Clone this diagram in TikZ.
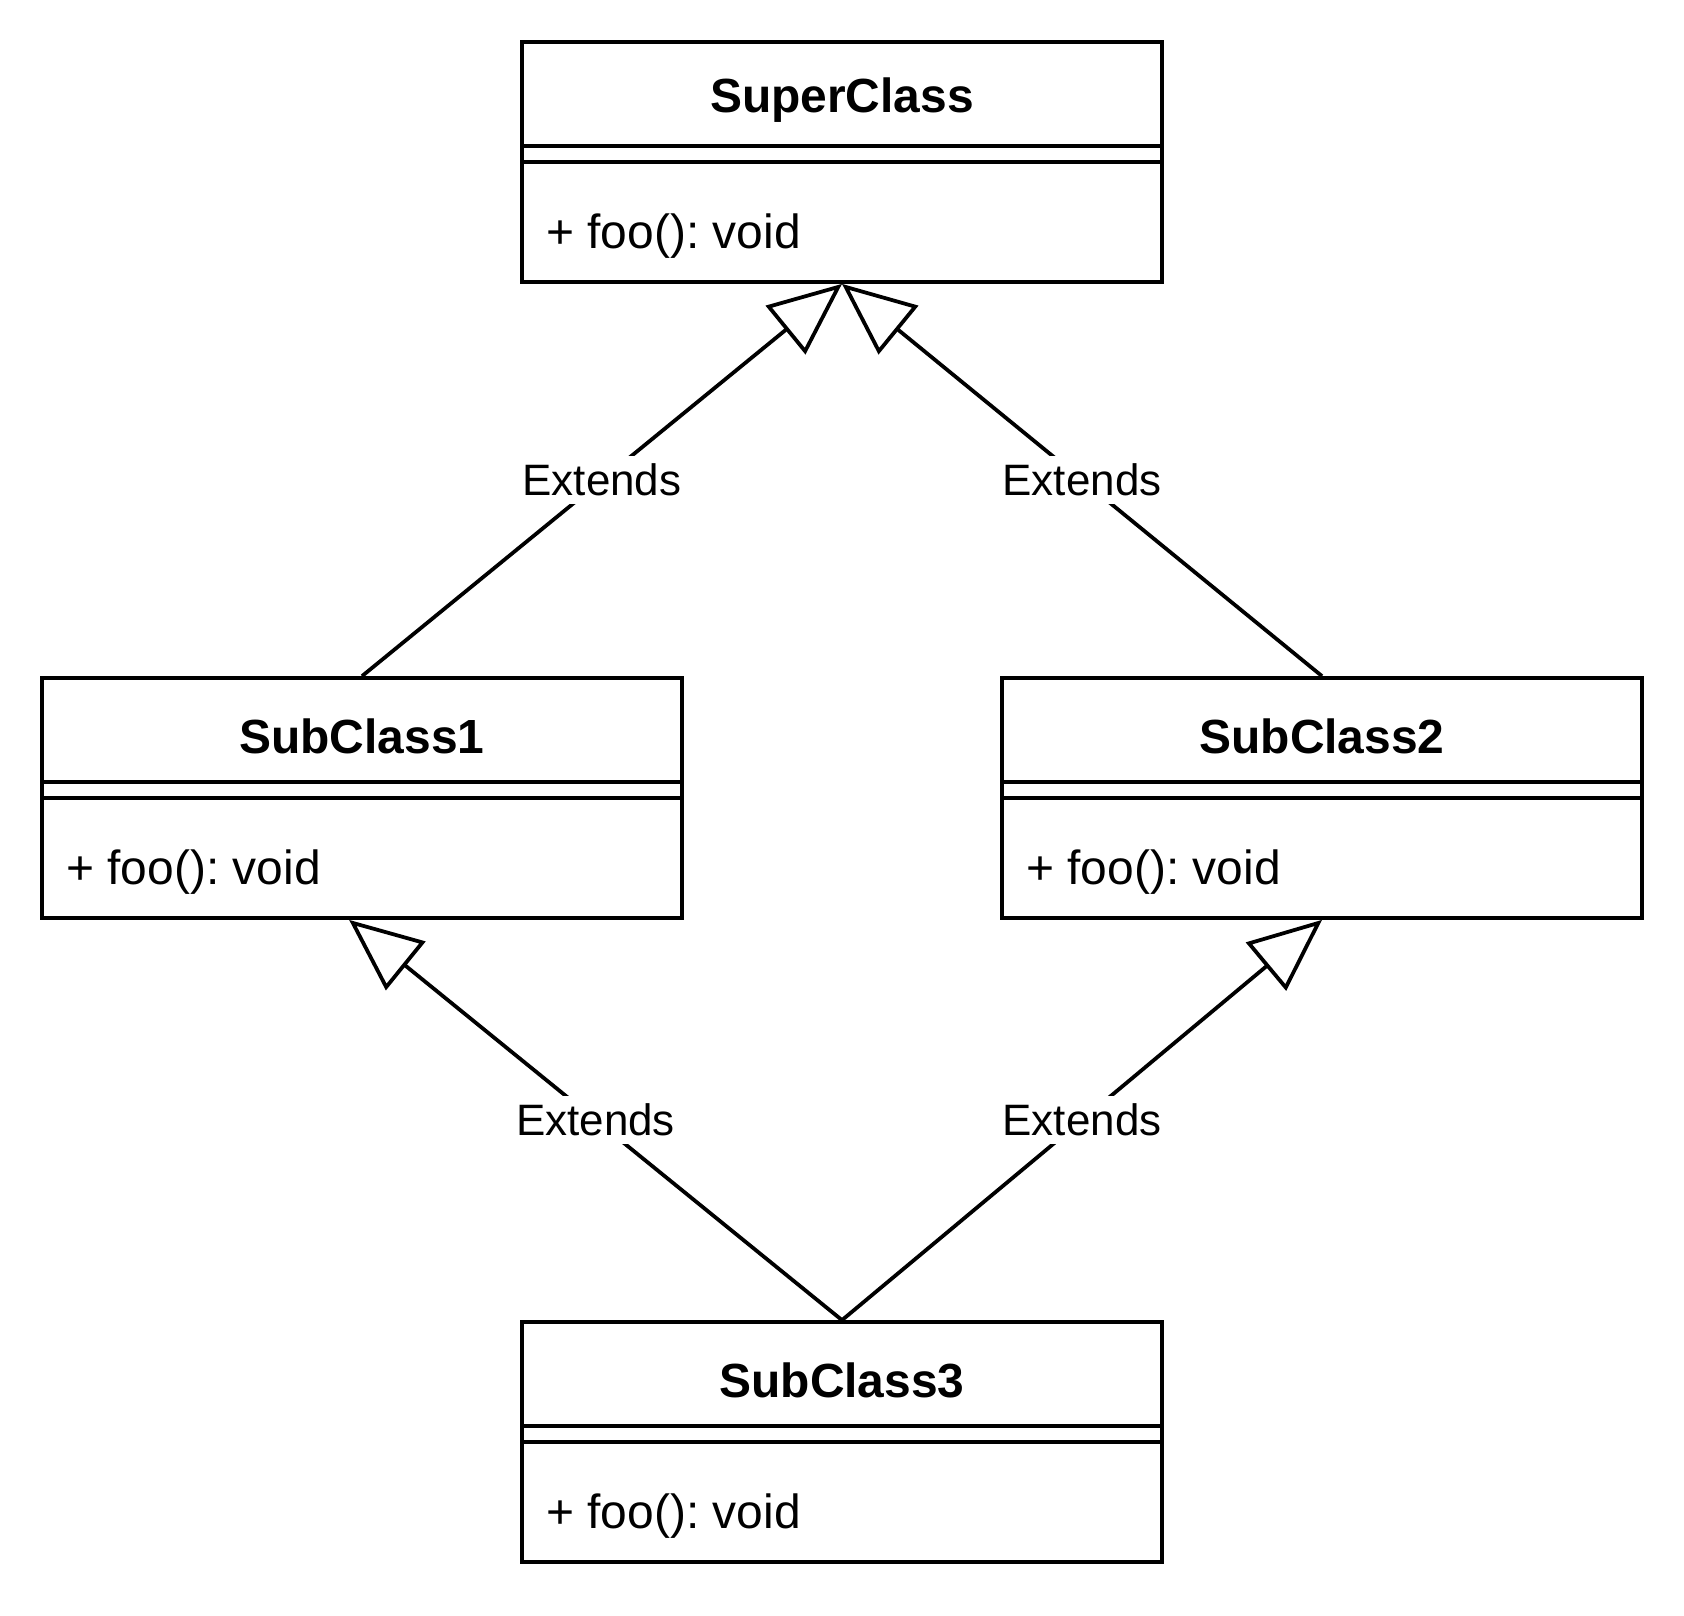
\documentclass[tikz,border=0pt]{standalone}
\usepackage{fontspec}
\setmainfont{Liberation Sans}
\frenchspacing
\usetikzlibrary{arrows.meta,positioning}

\tikzset{
	klasse/.style={draw, line width=1pt, minimum width=59.6mm, minimum height=22.35mm, inner sep=0pt},
	titel/.style={font=\fontsize{12.7}{15}\selectfont\bfseries},
	methode/.style={font=\fontsize{12.7}{15}\selectfont, anchor=west, inner sep=0pt},
	trenner/.style={line width=1pt},
	erbt/.style={line width=1pt, -{Triangle[open, length=6.8mm, width=5.8mm]}},
	etikett/.style={fill=white, font=\fontsize{11.65}{14}\selectfont, inner sep=2pt}
}

\begin{document}
\begin{tikzpicture}[x=0.3725mm, y=0.3725mm]
	\useasboundingbox (0,0) rectangle (421,-403.8);
	% Oberklasse
	\node[klasse] (super) at (210.5, -40.5) {};
	\node[titel] (supertitel) at (210.5, -25) {SuperClass};
	\draw[trenner] (130.5, -36.5) -- (290.5, -36.5);
	\draw[trenner] (130.5, -40.5) -- (290.5, -40.5);
	\node[methode] (superfoo) at (136.4, -58.9) {+ foo(): void};
	% Unterklasse 1
	\node[klasse] (sub1) at (90.5, -199.5) {};
	\node[titel] (sub1titel) at (90.5, -184) {SubClass1};
	\draw[trenner] (10.5, -195.5) -- (170.5, -195.5);
	\draw[trenner] (10.5, -199.5) -- (170.5, -199.5);
	\node[methode] (sub1foo) at (16.4, -217.9) {+ foo(): void};
	% Unterklasse 2
	\node[klasse] (sub2) at (330.5, -199.5) {};
	\node[titel] (sub2titel) at (330.5, -184) {SubClass2};
	\draw[trenner] (250.5, -195.5) -- (410.5, -195.5);
	\draw[trenner] (250.5, -199.5) -- (410.5, -199.5);
	\node[methode] (sub2foo) at (256.4, -217.9) {+ foo(): void};
	% Unterklasse 3
	\node[klasse] (sub3) at (210.5, -360.5) {};
	\node[titel] (sub3titel) at (210.5, -345) {SubClass3};
	\draw[trenner] (130.5, -356.5) -- (290.5, -356.5);
	\draw[trenner] (130.5, -360.5) -- (290.5, -360.5);
	\node[methode] (sub3foo) at (136.4, -378.9) {+ foo(): void};
	% Vererbung
	\draw[erbt] (sub1.north) -- (super.south) node[etikett, midway] (e1) {Extends};
	\draw[erbt] (sub2.north) -- (super.south) node[etikett, midway] (e2) {Extends};
	\draw[erbt] (sub3.north) -- ([xshift=-1.2mm]sub1.south) node[etikett, midway] (e3) {Extends};
	\draw[erbt] (sub3.north) -- (sub2.south) node[etikett, midway] (e4) {Extends};
\end{tikzpicture}
\end{document}
